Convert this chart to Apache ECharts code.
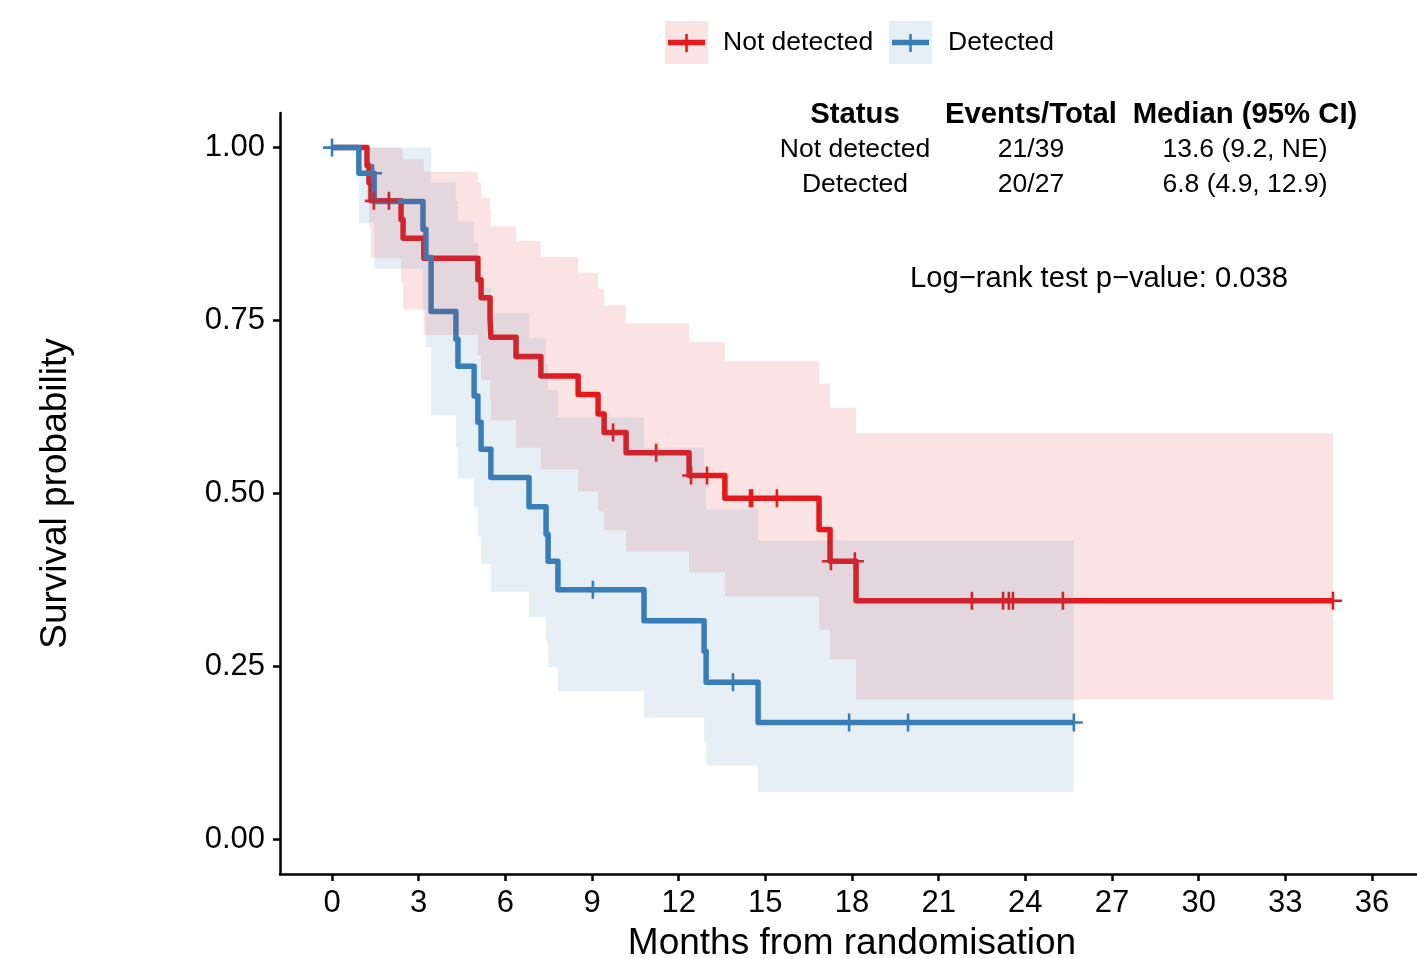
<!DOCTYPE html>
<html>
<head>
<meta charset="utf-8">
<script src="https://cdn.jsdelivr.net/npm/echarts@6/dist/echarts.min.js"></script>
<style>
html,body{margin:0;padding:0;background:#fff;overflow:hidden;}
#chart{width:1417px;height:959px;}
</style>
</head>
<body>
<div id="chart"></div>
<script>
// ---------------- DATA ----------------
const groupNames = ['Not detected', 'Detected'];
const groupColors = ['#E41A1C', '#377EB8'];

// Not detected (red)
const redTimes = [0, 1.21, 1.28, 1.35, 2.39, 2.46, 3.18, 5.05, 5.16, 5.47, 5.50, 6.37, 7.23, 8.52, 9.21, 9.42, 10.18, 12.36, 13.60, 16.86, 17.24, 18.14, 34.65];
const redSurv  = [1, 0.974, 0.949, 0.923, 0.896, 0.869, 0.840, 0.809, 0.783, 0.754, 0.726, 0.698, 0.670, 0.643, 0.615, 0.588, 0.559, 0.526, 0.493, 0.448, 0.402, 0.345, 0.345];
const redUpper = [1, 1, 1, 1, 0.998, 0.983, 0.965, 0.950, 0.927, 0.910, 0.886, 0.865, 0.842, 0.819, 0.796, 0.772, 0.746, 0.719, 0.691, 0.659, 0.624, 0.587, 0.587];
const redLower = [1, 0.926, 0.882, 0.840, 0.804, 0.766, 0.729, 0.700, 0.664, 0.635, 0.606, 0.566, 0.535, 0.503, 0.474, 0.447, 0.416, 0.386, 0.351, 0.303, 0.260, 0.202, 0.202];
const redCensor = [1.45, 1.97, 9.73, 11.22, 12.43, 12.98, 14.47, 14.54, 15.40, 17.27, 18.10, 22.15, 23.23, 23.43, 23.57, 25.30, 34.65];

// Detected (blue)
const blueTimes = [0, 0.93, 1.46, 3.15, 3.25, 3.43, 4.29, 4.36, 4.92, 5.05, 5.16, 5.50, 6.82, 7.41, 7.48, 7.82, 10.80, 12.88, 12.95, 14.75, 25.68];
const blueSurv  = [1, 0.963, 0.922, 0.882, 0.841, 0.763, 0.723, 0.684, 0.641, 0.603, 0.564, 0.523, 0.481, 0.441, 0.402, 0.361, 0.316, 0.272, 0.227, 0.169, 0.169];
const blueUpper = [1, 1, 1, 1, 1, 0.950, 0.922, 0.893, 0.862, 0.830, 0.797, 0.761, 0.724, 0.687, 0.650, 0.610, 0.566, 0.520, 0.477, 0.432, 0.432];
const blueLower = [1, 0.891, 0.825, 0.766, 0.711, 0.613, 0.567, 0.522, 0.480, 0.438, 0.398, 0.358, 0.321, 0.285, 0.249, 0.214, 0.176, 0.140, 0.107, 0.068, 0.068];
const blueCensor = [0, 1.42, 9.03, 13.88, 17.90, 19.94, 25.68];

// Axis ticks
const xTicks = [0, 3, 6, 9, 12, 15, 18, 21, 24, 27, 30, 33, 36];
const yTicks = [0, 0.25, 0.5, 0.75, 1];

// Text
const xTitle = 'Months from randomisation';
const yTitle = 'Survival probability';
const tableHeader = ['Status', 'Events/Total', 'Median (95% CI)'];
const tableRows = [
  ['Not detected', '21/39', '13.6 (9.2, NE)'],
  ['Detected', '20/27', '6.8 (4.9, 12.9)']
];
const pText = 'Log\u2212rank test p\u2212value: 0.038';

// ---------------- HELPERS ----------------
const FONT = '"Liberation Sans", Arial, Helvetica, sans-serif';
function pairs(ts, vs) { return ts.map((t, i) => [t, vs[i]]); }
function survAt(ts, vs, t) {
  let v = vs[0];
  for (let i = 0; i < ts.length; i++) { if (ts[i] <= t) v = vs[i]; }
  return v;
}
function bandSeries(ts, up, lo, fill) {
  return {
    type: 'custom',
    coordinateSystem: 'cartesian2d',
    z: 4,
    silent: true,
    clip: false,
    data: [[ts[0], up[0]]],
    renderItem: function (params, api) {
      const pts = [];
      for (let i = 0; i < ts.length - 1; i++) {
        pts.push(api.coord([ts[i], up[i]]));
        pts.push(api.coord([ts[i + 1], up[i]]));
      }
      for (let i = ts.length - 2; i >= 0; i--) {
        pts.push(api.coord([ts[i + 1], lo[i]]));
        pts.push(api.coord([ts[i], lo[i]]));
      }
      return { type: 'polygon', shape: { points: pts }, style: { fill: fill } };
    }
  };
}
const plusPath = 'path://M-1.3,-9H1.3V-1.3H9V1.3H1.3V9H-1.3V1.3H-9V-1.3H-1.3Z';

// ---------------- CHART ----------------
const chart = echarts.init(document.getElementById('chart'), null, { renderer: 'canvas' });

const graphics = [];
// legend keys
const legendBoxes = [665, 889];
const legendTextX = [723, 948];
const bandFills = ['rgba(228,26,28,0.12)', 'rgba(55,126,184,0.12)'];
for (let g = 0; g < 2; g++) {
  const bx = legendBoxes[g];
  graphics.push({ type: 'rect', shape: { x: bx, y: 21, width: 43, height: 43 }, style: { fill: bandFills[g] } });
  graphics.push({ type: 'line', shape: { x1: bx + 3, y1: 42.5, x2: bx + 40, y2: 42.5 }, style: { stroke: groupColors[g], lineWidth: 5.5 } });
  graphics.push({ type: 'line', shape: { x1: bx + 21.5, y1: 34, x2: bx + 21.5, y2: 52 }, style: { stroke: groupColors[g], lineWidth: 2.6 } });
  graphics.push({ type: 'text', x: legendTextX[g], y: 43, style: { text: groupNames[g], font: '26.5px ' + FONT, fill: '#000', textAlign: 'left', textVerticalAlign: 'middle', align: 'left', verticalAlign: 'middle' } });
}
// table
const colX = [855, 1031, 1245];
const rowY = [150, 185];
tableHeader.forEach((h, c) => {
  graphics.push({ type: 'text', x: colX[c], y: 115, style: { text: h, font: 'bold 29.3px ' + FONT, fill: '#000', textAlign: 'center', textVerticalAlign: 'middle', align: 'center', verticalAlign: 'middle' } });
});
tableRows.forEach((row, r) => {
  row.forEach((cell, c) => {
    graphics.push({ type: 'text', x: colX[c], y: rowY[r], style: { text: cell, font: '26.5px ' + FONT, fill: '#000', textAlign: 'center', textVerticalAlign: 'middle', align: 'center', verticalAlign: 'middle' } });
  });
});
graphics.push({ type: 'text', x: 1099, y: 279, style: { text: pText, font: '29.2px ' + FONT, fill: '#000', textAlign: 'center', textVerticalAlign: 'middle', align: 'center', verticalAlign: 'middle' } });

const axisCommon = {
  axisLine: { show: true, onZero: false, lineStyle: { color: '#000', width: 2.5 } },
  splitLine: { show: false },
  nameLocation: 'middle',
  nameTextStyle: { fontSize: 37, color: '#000', fontFamily: FONT }
};

const option = {
  animation: false,
  backgroundColor: '#fff',
  grid: { left: 280, top: 113, width: 1144, height: 761, containLabel: false, outerBoundsMode: 'none' },
  xAxis: Object.assign({}, axisCommon, {
    type: 'value', min: -1.8, max: 37.8,
    name: xTitle, nameGap: 51,
    axisTick: { show: true, length: 7, customValues: xTicks, lineStyle: { color: '#000', width: 2.5 } },
    axisLabel: { show: true, customValues: xTicks, fontSize: 31, color: '#000', fontFamily: FONT, margin: 14 }
  }),
  yAxis: Object.assign({}, axisCommon, {
    type: 'value', min: -0.05, max: 1.05,
    name: yTitle, nameGap: 206,
    axisTick: { show: true, length: 7, customValues: yTicks, lineStyle: { color: '#000', width: 2.5 } },
    axisLabel: { show: true, customValues: yTicks, fontSize: 31, color: '#000', fontFamily: FONT, margin: 15,
      padding: [4, 0, 0, 0],
      formatter: v => Number(v).toFixed(2) }
  }),
  series: [
    { type: 'line', step: 'end', showSymbol: false, z: 2, data: pairs(redTimes, redSurv),
      lineStyle: { color: groupColors[0], width: 5.5, join: 'round' }, itemStyle: { color: groupColors[0] } },
    { type: 'line', step: 'end', showSymbol: false, z: 2, data: pairs(blueTimes, blueSurv),
      lineStyle: { color: groupColors[1], width: 5.5, join: 'round' }, itemStyle: { color: groupColors[1] } },
    { type: 'scatter', z: 3, symbol: plusPath, symbolSize: 18, silent: true,
      data: redCensor.map(t => [t, survAt(redTimes, redSurv, t)]), itemStyle: { color: groupColors[0], opacity: 1 } },
    { type: 'scatter', z: 3, symbol: plusPath, symbolSize: 18, silent: true,
      data: blueCensor.map(t => [t, survAt(blueTimes, blueSurv, t)]), itemStyle: { color: groupColors[1], opacity: 1 } },
    bandSeries(redTimes, redUpper, redLower, bandFills[0]),
    bandSeries(blueTimes, blueUpper, blueLower, bandFills[1])
  ],
  graphic: graphics
};
chart.setOption(option);
</script>
</body>
</html>
